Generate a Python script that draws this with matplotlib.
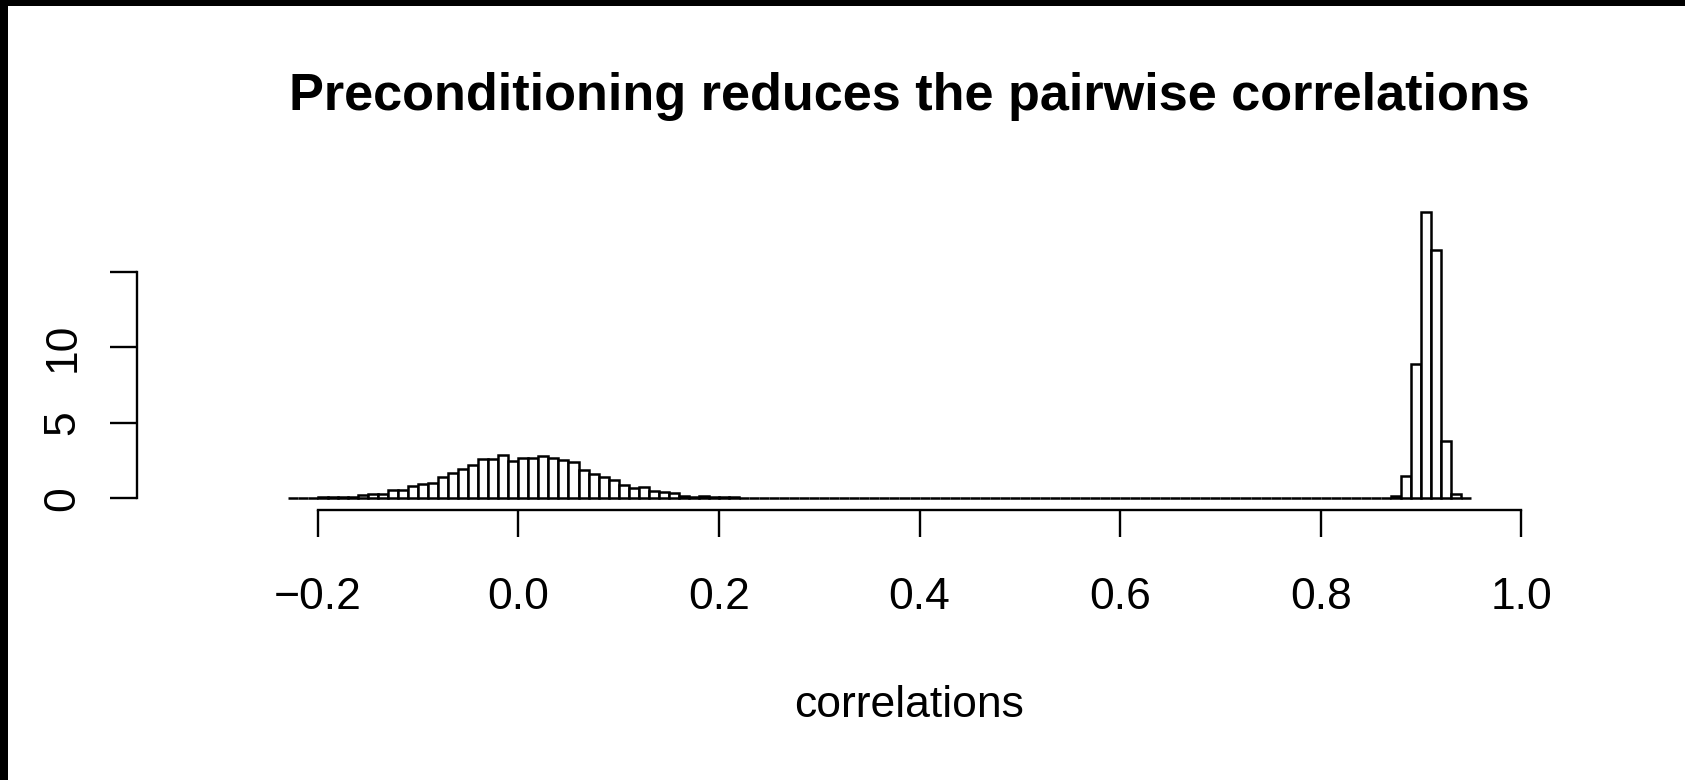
import matplotlib
matplotlib.use("Agg")
import matplotlib.pyplot as plt
from matplotlib.patches import Rectangle
import numpy as np

plt.rcParams['font.family'] = ['Liberation Sans', 'DejaVu Sans']

# histogram bins (width 0.01) starting at -0.23
bin_start = -0.23
bin_width = 0.01

# density per bin
dens_left = [0.02, 0.03, 0.04, 0.05, 0.06, 0.08, 0.10, 0.20, 0.28, 0.30,
             0.55, 0.56, 0.83, 0.95, 1.04, 1.42, 1.65, 1.97, 2.18, 2.60,
             2.58, 2.86, 2.45]
dens_mid = [2.69, 2.69, 2.78, 2.66, 2.56, 2.40, 1.90, 1.60, 1.38, 1.18,
            0.88, 0.71, 0.73, 0.47, 0.39, 0.34, 0.18, 0.11, 0.13, 0.08,
            0.07, 0.05, 0.03, 0.04, 0.03, 0.02, 0.01]
dens_gap = [0, 0, 0, 0, 0, 0, 0, 0, 0,
            0, 0, 0, 0, 0, 0, 0, 0, 0, 0,
            0, 0, 0, 0, 0, 0, 0, 0, 0, 0,
            0, 0, 0, 0, 0, 0, 0, 0, 0, 0,
            0, 0, 0, 0, 0, 0, 0, 0, 0, 0,
            0, 0, 0, 0, 0, 0, 0, 0, 0, 0]
dens_peak = [0.04, 0.12, 1.45, 8.93, 18.99, 16.49, 3.80, 0.31, 0.03]

heights = dens_left + dens_mid + dens_gap + dens_peak
lefts = np.round(bin_start + bin_width * np.arange(len(heights)), 2)

xticks = [-0.2, 0.0, 0.2, 0.4, 0.6, 0.8, 1.0]
xticklabels = ['\u22120.2', '0.0', '0.2', '0.4', '0.6', '0.8', '1.0']
yticks = [0, 5, 10, 15]
yticklabels = ['0', '5', '10', '']

W, H = 1685, 780
fig = plt.figure(figsize=(W / 100, H / 100), dpi=100)
ax = fig.add_axes([137.2 / W, 1 - 510 / H, 1543.6 / W, 309.7 / H])

ax.bar(lefts, heights, width=bin_width, align='edge', facecolor='white',
       edgecolor='black', linewidth=1.8)

ax.set_xlim(-0.38, 1.159)
ax.set_ylim(-0.78, 19.76)

for s in ['top', 'right']:
    ax.spines[s].set_visible(False)
ax.spines['left'].set_bounds(0, 15)
ax.spines['bottom'].set_bounds(-0.2, 1.0)
ax.spines['left'].set_linewidth(1.7)
ax.spines['bottom'].set_linewidth(1.7)

ax.set_xticks(xticks)
ax.set_xticklabels(xticklabels, fontsize=32)
ax.set_yticks(yticks)
ax.set_yticklabels(yticklabels, fontsize=32, rotation=90, va='center')
ax.tick_params(axis='both', length=19.5, width=1.7, direction='out')
ax.tick_params(axis='x', pad=29)
ax.tick_params(axis='y', pad=19)

ax.set_xlabel('correlations', fontsize=32, va='baseline')
ax.xaxis.set_label_coords(0.5, (510 - 716.8) / 309.7)
ax.set_title('Preconditioning reduces the pairwise correlations',
             fontsize=37.6, fontweight='bold', y=(510 - 110.0) / 309.7, pad=0,
             va='baseline')

# black frame edge at top and left of the original screenshot
fig.add_artist(Rectangle((0, 1 - 6 / H), 1, 6 / H, transform=fig.transFigure,
                         facecolor='black', edgecolor='none'))
fig.add_artist(Rectangle((0, 0), 8 / W, 1, transform=fig.transFigure,
                         facecolor='black', edgecolor='none'))

fig.savefig('out.png', dpi=100)
